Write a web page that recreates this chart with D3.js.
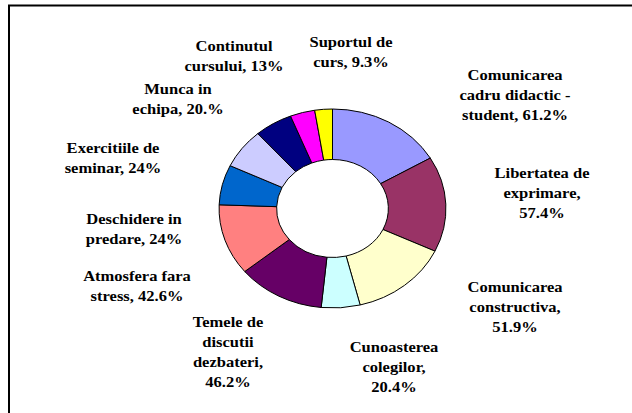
<!DOCTYPE html>
<html>
<head>
<meta charset="utf-8">
<script src="https://cdn.jsdelivr.net/npm/d3@7"></script>
<style>
  body { margin: 0; background: #fff; }
  svg { display: block; }
</style>
</head>
<body>
<svg id="chart" width="632" height="413"></svg>
<script>
// data, clockwise from 12 o'clock
const categories = [
  ["Comunicarea", "cadru didactic -", "student,"],
  ["Libertatea de", "exprimare,"],
  ["Comunicarea", "constructiva,"],
  ["Cunoasterea", "colegilor,"],
  ["Temele de", "discutii", "dezbateri,"],
  ["Atmosfera fara", "stress,"],
  ["Deschidere in", "predare,"],
  ["Exercitiile de", "seminar,"],
  ["Munca in", "echipa,"],
  ["Continutul", "cursului,"],
  ["Suportul de", "curs,"]
]
const values = [61.2, 57.4, 51.9, 20.4, 46.2, 42.6, 24, 24, 20, 13, 9.3]
const valueLabels = ["61.2%", "57.4%", "51.9%", "20.4%", "46.2%", "42.6%", "24%", "24%", "20.%", "13%", "9.3%"]
const colors = ["#9999FF", "#993366", "#FFFFCC", "#CCFFFF", "#660066", "#FF8080",
  "#0066CC", "#CCCCFF", "#000080", "#FF00FF", "#FFFF00"]

// label layout: how each label's last line joins the value, and where the block sits (centre x, first baseline)
const joinLast = [true, false, false, false, false, true, true, true, true, true, true]
const labelPos = [
  [515, 80], [542, 178], [515, 292], [394, 352], [228, 327], [137, 281],
  [134, 224], [113, 153], [178, 94], [234, 51], [351, 47]
]

const cx = 332.5, cy = 208.5
const stretch = 1.14   // the picture is wider than it is tall
const rOuter = 99.5, rInner = 49
const lineH = 20

const svg = d3.select("#chart")

// frame (top and left edges only are visible)
svg.append("path")
  .attr("d", "M9,413 L9,5.5 L632,5.5")
  .attr("fill", "none")
  .attr("stroke", "#000")
  .attr("stroke-width", 2)

const pie = d3.pie().sort(null).value(d => d)
const arc = d3.arc().innerRadius(rInner).outerRadius(rOuter)

const g = svg.append("g")
  .attr("transform", "translate(" + cx + "," + cy + ") scale(" + stretch + ",1)")

g.selectAll("path.slice")
  .data(pie(values))
  .enter()
  .append("path")
  .attr("class", "slice")
  .attr("d", arc)
  .attr("fill", (d, i) => colors[i])
  .attr("stroke", "#000")
  .attr("stroke-width", 1)
  .attr("vector-effect", "non-scaling-stroke")

// labels
categories.forEach((lines, i) => {
  let txt = lines.slice()
  if (joinLast[i]) {
    txt[txt.length - 1] = txt[txt.length - 1] + " " + valueLabels[i]
  } else {
    txt.push(valueLabels[i])
  }
  const t = svg.append("text")
    .attr("font-family", "'Liberation Serif', 'Times New Roman', serif")
    .attr("font-weight", "bold")
    .attr("font-size", "14.5px")
    .attr("fill", "#000")
    .attr("text-anchor", "middle")
    .attr("transform", "translate(" + labelPos[i][0] + "," + labelPos[i][1] + ") scale(" + stretch + ",1)")
  txt.forEach((s, k) => {
    t.append("tspan")
      .attr("x", 0)
      .attr("y", k * lineH)
      .text(s)
  })
})
</script>
</body>
</html>
